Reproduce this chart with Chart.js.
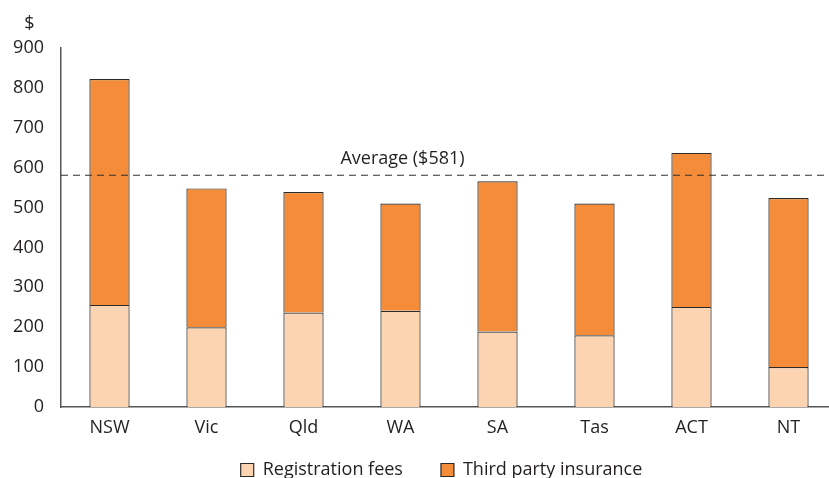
<!DOCTYPE html>
<html>
<head>
<meta charset="utf-8">
<script src="https://cdn.jsdelivr.net/npm/chart.js@4.4.1/dist/chart.umd.min.js"></script>
<style>
  html, body { margin: 0; padding: 0; overflow: hidden; background: #fff; }
  #wrap { width: 837px; height: 478px; position: relative; }
</style>
</head>
<body>
<div id="wrap"><canvas id="chart"></canvas></div>
<script>
// Annual vehicle costs by state, dollars
const states = ['NSW', 'Vic', 'Qld', 'WA', 'SA', 'Tas', 'ACT', 'NT'];
const registrationFees = [256, 200, 237, 241, 189, 180, 251, 100];
const thirdPartyInsurance = [566, 348, 302, 269, 377, 330, 386, 424];
const averageCost = 581;
const yAxisMax = 900;
const yAxisStep = 100;
const yAxisUnit = '$';

const TEXT = '#231f20';
const FONT = '"Open Sans", sans-serif';
const FONT_SIZE = 18;
Chart.defaults.font.family = FONT;
Chart.defaults.font.size = FONT_SIZE;
Chart.defaults.color = TEXT;

// Dashed average line with its label, plus the unit label above the y axis
const extras = {
  id: 'extras',
  afterLayout(chart) {
    // nudge the legend row into place
    const L = chart.legend;
    L.left += 23; L.right += 23;
    L.top -= 16; L.bottom -= 16;
  },
  afterDatasetsDraw(chart) {
    const { ctx, chartArea, scales: { x, y } } = chart;
    const yPix = y.getPixelForValue(averageCost);
    ctx.save();
    ctx.strokeStyle = '#333';
    ctx.lineWidth = 1.2;
    ctx.setLineDash([7, 5]);
    ctx.beginPath();
    ctx.moveTo(chartArea.left, yPix);
    ctx.lineTo(chartArea.right, yPix);
    ctx.stroke();
    ctx.setLineDash([]);
    ctx.font = FONT_SIZE + 'px ' + FONT;
    ctx.fillStyle = TEXT;
    ctx.textAlign = 'center';
    ctx.textBaseline = 'alphabetic';
    ctx.fillText('Average ($' + averageCost + ')', x.getPixelForValue(3) + 2, yPix - 11);
    ctx.fillText(yAxisUnit, 29.5, 29);
    ctx.restore();
  }
};

new Chart(document.getElementById('chart'), {
  type: 'bar',
  data: {
    labels: states,
    datasets: [
      {
        label: 'Registration fees',
        data: registrationFees,
        backgroundColor: '#FCD4B2',
        borderColor: '#2b2b2b',
        borderWidth: 1.2
      },
      {
        label: 'Third party insurance',
        data: thirdPartyInsurance,
        backgroundColor: '#F48C39',
        borderColor: '#2b2b2b',
        borderWidth: 1.2
      }
    ]
  },
  options: {
    responsive: true,
    maintainAspectRatio: false,
    animation: false,
    devicePixelRatio: 1,
    layout: { padding: { top: 48, left: 0, right: 0, bottom: -27 } },
    datasets: { bar: { categoryPercentage: 1, barPercentage: 0.415 } },
    scales: {
      x: {
        stacked: true,
        grid: { display: false, drawTicks: false },
        border: { display: true, color: '#555', width: 1.5 },
        ticks: { padding: 10, color: TEXT, font: { size: FONT_SIZE } },
        afterFit(s) { s.height = 32; }
      },
      y: {
        stacked: true,
        min: 0,
        max: yAxisMax,
        grid: { display: false, drawTicks: false },
        border: { display: true, color: '#555', width: 1.5 },
        ticks: { stepSize: yAxisStep, padding: 17, color: TEXT, font: { size: FONT_SIZE } },
        afterFit(s) { s.width = 61; }
      }
    },
    plugins: {
      tooltip: { enabled: false },
      legend: {
        position: 'bottom',
        labels: {
          boxWidth: 13,
          boxHeight: 13,
          padding: 38,
          color: TEXT,
          font: { size: FONT_SIZE }
        }
      }
    }
  },
  plugins: [extras]
});
</script>
</body>
</html>
